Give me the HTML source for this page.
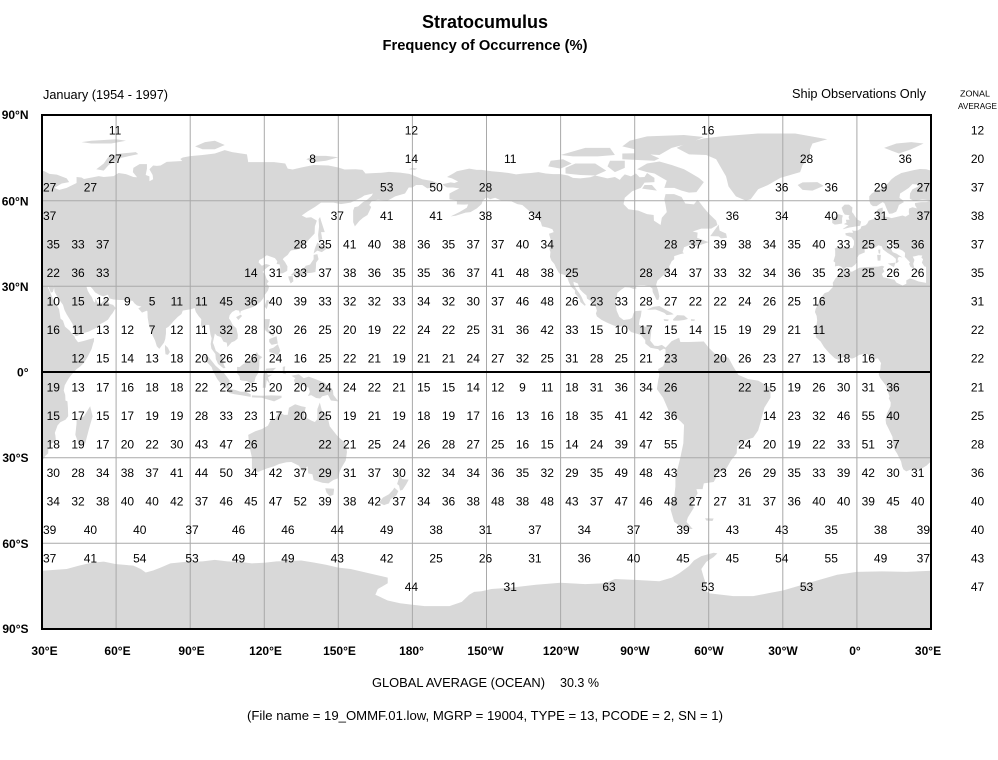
<!DOCTYPE html>
<html><head><meta charset="utf-8"><style>
html,body{margin:0;padding:0;background:#fff;}
svg{display:block;}
.n{font-family:"Liberation Sans",Arial,sans-serif;font-size:12px;text-anchor:middle;fill:#000;}
.ns{font-family:"Liberation Sans",Arial,sans-serif;font-size:12px;text-anchor:start;fill:#000;}
.ne{font-family:"Liberation Sans",Arial,sans-serif;font-size:12px;text-anchor:end;fill:#000;}
.lat{font-family:"Liberation Sans",Arial,sans-serif;font-size:12px;font-weight:bold;text-anchor:end;}
.lon{font-family:"Liberation Sans",Arial,sans-serif;font-size:12px;font-weight:bold;text-anchor:middle;}
.t{font-family:"Liberation Sans",Arial,sans-serif;}
</style></head><body>
<svg width="998" height="760" viewBox="0 0 998 760" xmlns="http://www.w3.org/2000/svg">
<defs><clipPath id="fr"><rect x="42" y="115" width="889" height="514"/></clipPath></defs>
<rect width="998" height="760" fill="#fff"/>
<g clip-path="url(#fr)">
<g transform="translate(42 372) scale(2.469444 -2.855556) translate(-30 0)" fill="#d8d8d8">
<g id="land">
<polygon points="-9,43.2 -8,43.7 -4,43.5 -1.8,43.4 -1.2,44.5 -1.2,46 -2.2,47.2 -4.5,47.9 -4.7,48.6 -3,48.8 -1.6,48.7 -1.9,49.7 -1.2,49.4 0.2,49.5 1.5,50.2 1.8,51 3.5,51.4 4.2,52 4.8,53 6.5,53.5 8.5,53.7 8.8,54.5 8.3,55.5 8.1,56.6 8.6,57.1 10.4,57.6 10.5,56.3 10.2,55.5 10.8,54.4 12.5,54.3 14,53.9 16,54.3 18.5,54.8 19.7,54.4 21.2,55.2 21,56 21.1,57.2 22.5,57.7 24.3,57.3 23.5,58.5 23.5,59.2 26,59.5 28,59.5 30,59.9 29,60.2 26.5,60.4 23,59.9 21.4,60.7 21.5,62.5 22.5,64 25,65 25.3,65.6 22.5,65.8 21,64.5 19.5,63.6 17.5,62.5 17.2,61 18.5,60.2 19,59.5 17,58.5 16.5,57.2 15.9,56.1 14.3,55.5 13,55.4 12.5,56.3 11.8,57.7 11.2,59 10.5,59.5 9.5,59 8,58.1 6.5,58.1 5.5,58.8 5,60 5,61.5 6,62.5 8,63.5 10.5,64.5 12.5,66 14,67.5 15.5,68.5 18,69.7 20,70.1 23,70.7 25.5,71.1 28,71 31,70.3 33,69.4 36,69.1 40,67.8 41,66.5 38,66 35,64.5 37,63.8 40,64.5 44,66.2 44,68.3 46,68.1 47,67.6 53,68.6 55,68.3 59,68.6 61,69.7 64,69.3 67,68.3 68.5,68.2 66.8,70 67,71.5 69.5,72.8 72.5,72.8 72.5,71.2 72,69 73.5,68.5 73.5,66.8 75,67.5 74.8,69 73.5,71 75,72.3 76.5,72.2 78,72.3 80.5,73.6 86.8,73.9 86,74.6 87,75.1 90,75.6 95,76 100,76.5 104,77.7 107,77 113,76.2 113.5,73.5 118,73.5 124,73.5 128.5,73 129.5,71.2 131.5,70.9 135,71.6 140,72.5 146,72.3 150,71.6 152.5,70.9 157,71 159.8,70.8 161,69.5 165,69.7 168,69.8 170.5,70.1 175,69.8 178.7,69.4 180,69 184,67.5 188,66.9 190,66.2 189.6,65.5 187.5,64.5 186,64.3 184,65.5 181.5,65.5 180,64.6 178.5,64.6 177,62.5 173,61.5 170,60 166,60.3 163.5,59.8 162.5,58.5 163.3,57.8 162.5,56.2 161.8,55 160,54 158.5,52.9 156.7,51 156,52.5 156,56.5 156.5,57.7 158,58 160,59.5 161.8,60.4 163.5,61.7 164,62.5 160.5,61.8 159.5,61.2 155,59.3 151,58.8 148,59.3 143,59.3 140.5,57.8 137.5,56.2 135.2,54.8 137,54 139,54.2 141.3,53 140.5,51 140.4,48.5 138.2,46.5 135.5,43.8 133,42.8 131,42.6 130.5,42.3 129.5,41 128,40 127.5,39.5 128.4,38.5 129.4,37 129.3,35.4 127.5,34.6 126.3,34.5 126.5,36.5 126.2,37.7 125,37.8 125.3,38.8 124.3,39.9 122,40.6 121,40.9 119.5,39.9 118,39.2 117.7,38.4 119,37.2 120.7,37.8 122.5,37.4 121.5,36.8 120.2,35.9 119.3,35 120.3,34.3 121,32.5 121.8,31.8 121,30.8 122,30 121.5,28.5 120.2,27 119.5,25.7 118.5,24.6 117,23.6 115.5,22.8 113.8,22.3 112,21.8 110.5,21.3 110.2,20.3 109.8,21.5 108.5,21.7 107,21 106,19.9 105.7,18.8 106.5,17.8 107.2,16.5 108.7,15.3 109.3,13 109.2,11.7 108,10.8 106.8,10.4 105.1,8.7 104.8,10.3 103.5,10.6 102.5,12.2 100.9,12.7 100,13.5 99.2,10.3 99.7,9.2 100.4,7.4 101.2,6.9 102.5,6 103.4,4.8 103.5,2.8 104.3,1.4 103.5,1.3 101.3,2.8 100.4,4.5 100.2,6.3 98.6,8.2 98.3,9.8 98.7,11.8 98.2,13.2 97.7,16.5 96.5,16.5 95.3,15.8 94.3,16 94.5,18.5 93.5,19.5 92.3,21 91.8,22.4 90.5,22 89,21.8 87,21.5 86.5,20.3 85,19.3 83.5,18 82.2,16.7 81.2,15.8 80.2,15.3 80.2,13.5 79.9,11.5 79.4,10.3 78.3,9 77.5,8.1 76.5,9 75.8,11 74.8,12.8 74.1,14.7 73.4,16 72.8,19 72.7,21.2 72.5,21.5 70.5,20.8 69,22.3 70.3,22.9 68.5,23.3 67.5,24 66.7,24.9 64.5,25.2 61.5,25.2 59,25.4 57.3,25.8 56.7,27.1 54.8,26.5 53.4,26.9 51.5,27.9 50.3,29.3 49.5,30 48,30 48.5,28.5 49.5,27 50.2,26.2 50.8,24.8 51.5,24.3 51.6,25.8 52.5,24.2 54.2,24.2 56,26 56.4,24.8 57.5,23.8 58.8,23.5 59.8,22.4 58.6,20.6 57.8,19.8 56.7,18.3 55.4,17.6 53.5,16.7 52,15.5 49,14.2 46,13.4 44.2,12.6 43.3,12.7 42.7,15.5 42.4,16.8 41.2,18.5 40,20.2 39.1,21.7 38.5,23.5 37.4,24.8 36.4,26 35.1,28.1 34.9,29.5 34.2,31.3 34.9,32.6 35.5,34 35.9,35.4 36,36.8 34.5,36.8 32.5,36.1 30.5,36.5 29,36.6 27.3,37 26.3,38.3 26.8,39.5 26.1,40.1 26.5,40.8 25,40.9 23.7,40.6 22.6,40.4 23.3,39.2 22.8,37.9 23.2,36.5 22.5,36.4 21.7,36.8 21.1,37.9 21.5,38.4 20.2,39.6 19.4,40.3 19.5,41.7 18.5,42.5 16,43.5 14.9,44.9 13.7,45.6 12.3,45.3 12.4,44.2 13.6,43.5 14.5,42 16.1,41.4 17.2,40.8 18.5,40.1 17.2,40.3 16.6,40 16.5,39 17.1,39 16.4,38.3 15.7,38 15.8,39.6 14.5,40.6 12.4,41.7 10.5,43 10.1,44 8.7,44.4 6.5,43.1 5,43.4 3.1,43 3.2,41.9 0.8,41 -0.3,39.4 0.2,38.7 -0.7,37.6 -2.1,36.7 -4.4,36.7 -5.4,35.9 -6.3,36.8 -7.4,37.2 -8.9,37 -8.8,38.3 -9.5,38.8 -8.8,40.8 -8.8,42.5"/>
<polygon points="28,30.8 37,30.8 37,37 28,37"/>
<polygon points="-5.9,35.8 -2,35.1 1,36.5 5,36.8 8.6,36.9 10.2,37.2 11.1,36.9 10.5,36.2 11.1,35.2 10.1,34.3 10.6,33.2 12,32.9 15.2,32.3 16,31.3 18.5,30.3 20,30.9 20,32.1 21.5,32.8 23.2,32.3 25,31.7 27,31.4 29.5,30.9 31,31.6 32.3,31.3 34.2,31.3 34.9,29.5 34.4,28 33.6,27.8 32.6,29.9 32.4,29.7 33.6,27.3 34.2,26.1 35.5,24 36.9,22 37.2,20.5 37.5,18.7 38.5,18 39.3,15.9 41.2,14.5 42.3,13.2 43.3,12.3 43.3,11.9 44.6,10.4 46.6,10.8 48.9,11.4 51.1,11.9 51,10.6 50.8,10.3 50.1,8.1 48.6,5.5 47.7,4.2 46.6,2.9 45.6,2 44,1 42.1,-0.8 41,-2 40.1,-3.3 39.2,-4.7 38.8,-6.5 39.4,-8 39.5,-10 40.3,-10.3 40.5,-12.6 40.6,-15.5 39.5,-16.7 37.4,-17.6 36.3,-18.7 35.2,-21.3 35.4,-22.1 35.6,-23.7 35,-24.5 33,-25.4 32.6,-26.5 32.5,-28.5 31.3,-29.4 30,-31.3 28.2,-32.8 26.4,-33.7 25.6,-34 22.6,-33.9 20,-34.8 18.8,-34.1 18.3,-33 17.9,-31.4 16.3,-28.6 15.2,-27.1 14.7,-25.4 14.4,-22.7 13.4,-20.9 11.8,-18.1 11.6,-16.7 12.2,-14.5 13.6,-12 13.7,-10.7 12.9,-9.2 13.2,-8.6 12.3,-6.1 12.2,-5.8 11.9,-5 11,-3.9 9.4,-2.1 8.8,-0.8 9.5,1 9.6,2.3 9.8,3.1 8.5,4.8 7.1,4.5 5.9,4.3 4.3,6.3 2.7,6.3 1,6 -1,5 -2,4.7 -4,5.2 -5.8,5.1 -7.5,4.3 -9,4.8 -11.4,6.8 -13.3,8.7 -14.7,10.7 -15.1,11 -16.6,12.2 -16.7,13.6 -17.2,14.9 -16.4,16.2 -16.1,18.1 -16.3,19.6 -17,21 -16.7,22.1 -15.8,23.7 -14.4,26.2 -13.1,27.6 -11.5,28.1 -9.6,29.9 -9.8,31.2 -8.7,32.8 -6.9,34.1"/>
<polygon points="44,-16.5 47,-15.5 49.5,-12 50.5,-15.5 49,-20 47.5,-25 45,-25.5 43.5,-22 44,-18"/>
<polygon points="79.8,9.5 81,8.5 81.8,7 81,6 80,6.2 79.8,8"/>
<polygon points="113.5,-22 114,-26 115,-30 115,-34 117.5,-35 121,-33.8 124,-33 126,-32.2 129,-31.6 131,-31.5 134,-32.8 135.6,-34.9 137.5,-33 137.8,-35.5 139.5,-35.8 140,-37.8 143.5,-38.8 146,-39 148,-37.8 150,-37.2 150.5,-35 151.3,-33.5 153,-31 153.5,-28 153,-25 151,-23.5 149.5,-22.3 146.5,-19 145.5,-15 143.5,-14 142.5,-10.7 141.5,-13 141.5,-16.5 140.5,-17.5 139,-17 136,-15.5 136.8,-12.3 135,-12 132.5,-11.3 130,-12.5 129.5,-15 128,-15 126,-14 124.5,-16.3 122.5,-17 121.5,-18.8 119,-20 116.5,-20.7"/>
<polygon points="144.7,-40.7 148.3,-40.9 148,-43 146.5,-43.5 145.2,-42.2"/>
<polygon points="172.7,-34.4 174.5,-36 175.9,-37.5 178.5,-37.7 177.5,-39.3 176,-41.3 175,-41.5 174.6,-39.8 173.8,-39.2 174.6,-37 173,-35"/>
<polygon points="172.7,-40.5 174.3,-41.7 173.5,-43.2 171.2,-44.5 170.5,-46 168.5,-46.6 166.5,-45.8 168,-44 170.5,-42.8 172,-41.4"/>
<polygon points="131,-1.3 134,-0.8 136,-2.2 138,-1.6 141,-2.6 144.5,-3.8 146,-5.5 147.8,-6.3 148,-8 150,-10.3 147,-10 145.8,-8 143.5,-8.5 142.6,-9.3 141,-9.1 139,-8.1 137.7,-8.4 138.5,-7 138,-5.5 135,-4.4 132.5,-4 132,-2.8 132.6,-2.2"/>
<polygon points="109,1.8 110,1.7 111.5,2.8 113.5,3.5 115.5,5.2 117,7 117.7,6 119.2,5.2 118,4.3 118,2.3 117.8,0.8 117.5,-0.5 116.5,-1.8 116,-3.5 114.5,-4 113,-3.2 111,-3 110.2,-2.8 110,-1.5 109,-0.5"/>
<polygon points="95.3,5.6 97.5,5.2 100.3,2.2 103.8,-0.5 106,-3 105.8,-5.8 104.5,-5.8 102.3,-4 101,-2.5 99.3,0.2 98.7,1.7 96.5,3.7"/>
<polygon points="105.2,-6.8 106,-5.9 108.3,-6.3 110.4,-6.9 112.5,-6.9 114.5,-7.8 114.5,-8.7 111,-8.2 108,-7.8 106,-7.4"/>
<polygon points="119.4,-5.5 119.6,-1 120.8,1.2 124.8,1.5 123.5,0.4 120.5,0.5 121.5,-1 123.3,-0.9 121.5,-1.9 122.5,-4.5 121,-2.8 120.6,-5.5"/>
<polygon points="115,-8.2 119,-8.3 123,-8.2 127,-8.3 127,-9 124,-10.3 119,-9 115,-8.9"/>
<polygon points="127.5,1.8 128.5,2 128.3,0.5 128.8,-0.8 127.5,-0.5"/>
<polygon points="120,18.5 122.3,18.5 122,16.5 121.5,15 124,13 123.5,12.6 121.5,13.8 120.5,14.5 120,16"/>
<polygon points="122,11.5 125,12.5 125.5,10 123,9.5 122,10.5"/>
<polygon points="122,8 123.7,8.5 125.5,9.7 126.5,7.5 125.5,5.7 124,6.5 122,7"/>
<polygon points="120.1,23 121,25.3 122,25 121,22"/>
<polygon points="108.6,19.2 110.5,20.1 111,19.6 109.5,18.2"/>
<polygon points="130.9,34 132.5,35.4 135.5,35.6 136.8,37.2 138.5,37.6 140,39.5 140,41 141.5,41.3 142,39.5 141,38.3 140.9,36.5 140.7,35 139,34.7 137,34.6 135.3,33.7 133,34.2 131.2,33.8"/>
<polygon points="129.7,33.5 131.5,33.6 131.8,31.8 130.7,31 130,32.5"/>
<polygon points="132.5,33.5 134.7,34.2 134.2,33.2 133,32.8"/>
<polygon points="140,41.5 140.5,43.3 141.5,45.4 143,44.3 145.5,43.3 143.3,42 141.5,42.5"/>
<polygon points="142,46 143.5,46.5 143,49 144.5,49 143,53 142.6,54.3 142,53.5 142.2,51 141.8,48"/>
<polygon points="11,78.5 16,80 22,80.5 27,80 22,78 17,76.5 14,77.5"/>
<polygon points="46,80.5 50,81 60,81.5 64,81 58,80 50,80"/>
<polygon points="52,71 55,73 57,75.5 62,76.5 68,77 69,76.3 62,75 57,72.5 55,70.5"/>
<polygon points="92,79 96,80.5 100,81 104,79.5 100,78 95,78"/>
<polygon points="137,74.5 140,75.7 145,75.7 150,75.2 145,74 140,73.5"/>
<polygon points="178.5,71 180,71.5 182,71.2 181,70.8"/>
<polygon points="12.5,38 15.6,38.3 15,36.7"/>
<polygon points="8.2,41 9.7,41 9.5,39 8.4,39"/>
<polygon points="8.6,42.8 9.5,42.9 9.4,41.4 8.8,41.6"/>
<polygon points="23.5,35.5 26.3,35.2 24.5,35"/>
<polygon points="-85,69.7 -82,68 -82,66.5 -86,66.3 -87.5,64.5 -91,63.3 -94,61 -94.5,58.8 -92.5,57 -88.5,56.5 -85,55.3 -82.3,55 -82.2,53 -79.5,51.5 -79,54 -77,56 -77.5,58.5 -78,60.5 -77.5,62.3 -74,62.3 -71,61.3 -69.5,59 -66,58.7 -64.5,60.3 -62,57.5 -60,55.5 -57,53 -56.5,51.5 -59,50.2 -63,50.2 -66.5,49.2 -64.5,48.8 -64.7,47 -61,45.8 -60,45.5 -63,44.6 -66,44 -67.5,44.5 -70,43.7 -70.6,42 -70,41.6 -71.5,41.3 -74,40.6 -74,39.5 -75,38.8 -76,37 -75.6,35.5 -77,34.6 -78.5,33.8 -80.8,32 -81.3,30.5 -80.5,28.5 -80,26.5 -80.4,25.2 -81.2,25.3 -81.8,26.5 -82.7,28 -82.8,29.2 -84,30 -86,30.4 -88,30.4 -89.5,30.2 -89.3,29.2 -90.5,29.1 -92,29.6 -94,29.7 -95.5,28.8 -97,27.7 -97.3,26 -97.7,24 -97.3,21.5 -96.2,19.3 -94.5,18.2 -92,18.5 -91,19 -90.5,20.5 -90,21.3 -87.2,21.5 -87.5,19.5 -88,18.3 -88.3,16.5 -86,15.9 -84,15.8 -83.2,15 -83.5,12.5 -83.7,11 -82,9.2 -80.5,9.1 -79,9.5 -77.5,8.6 -77.3,7.8 -78.2,8.2 -79.8,7.4 -80.5,8 -81.8,8.2 -83.6,8.5 -85.7,10 -85.7,11.1 -87.5,13 -89.5,13.5 -91.5,14 -93,15.5 -94.7,16.2 -96.5,15.7 -98.5,16.3 -101,17.2 -103.5,18.3 -105.3,19.5 -105.7,20.5 -105.3,21.5 -105.7,22.7 -106.8,23.7 -108,25 -109.3,25.7 -109.5,26.8 -111,27.9 -112.2,29 -113,31 -114.8,31.6 -114.6,30.5 -113.6,29 -112.5,27.7 -111.5,26.3 -110.6,24.5 -109.8,23.5 -110.2,23.2 -112,24.5 -112.2,25.5 -114.2,27.5 -114.2,28.6 -115.7,29.8 -116.7,31.6 -117.3,33.2 -118.5,34 -120.6,34.6 -121.9,36.6 -122.5,37.8 -123.7,39 -124.3,40.3 -124.1,42 -124.5,43 -124,46.3 -124.7,48.4 -122.8,49 -123.3,50 -125,50.5 -127.5,51 -128,52.5 -130,54.5 -131.5,55.5 -133.5,57 -135.5,58.5 -137.5,58.8 -140,59.8 -144,60 -146.5,61 -148.5,60.5 -150,61.2 -151.5,60 -152,58.8 -153.9,57.3 -156.5,56 -158.5,55.8 -162.5,54.7 -164.5,54.5 -161,56 -158,57.5 -157.4,58.7 -159,58.6 -162,58.7 -162,60 -165,60.5 -165,62.5 -163.5,63.2 -161,64.3 -163.5,64.6 -166,64.6 -168,65.7 -164.5,66.4 -163,66.2 -161.5,66.7 -164,67.8 -166,68.3 -163.5,69.5 -162,70.3 -157,71.2 -154,70.8 -152,70.8 -148,70.3 -144,70 -141,69.7 -138,69.2 -135,69.5 -132,69.7 -129,70 -126,69.5 -123,69.3 -120,69.3 -117,68.8 -115,68 -112,67.8 -108,68.2 -106,68.8 -101,67.8 -98,68.3 -96,67.3 -95.3,68.1 -94,69.2 -91.5,68.5 -89.5,69.5 -88,68.2 -86,68.3"/>
<polygon points="-62,66.5 -65,63 -68,62.8 -71,63.5 -74,64.5 -78,64.5 -77,67 -82,69.5 -85,70 -89,71 -85,73 -80,73.7 -75,72.5 -70,71 -67,69.5 -64,68"/>
<polygon points="-118,71.5 -114,73 -106,73 -101.5,70.5 -106,68.8 -112,69 -118,69.5"/>
<polygon points="-125,72 -124,74 -119,74.5 -115.5,73 -120,71.2"/>
<polygon points="-90,76.5 -80,76 -75,78.5 -68,80 -62,82.3 -70,83 -85,82.5 -92,81 -95,79 -90,78"/>
<polygon points="-95,74.5 -82,74 -80,74.8 -85,76.7 -95,76.5"/>
<polygon points="-120,76 -110,78.5 -100,78.5 -98,76 -105,75.5 -115,75.5"/>
<polygon points="-101,72 -100,74 -94,74 -94,71.5 -98,70"/>
<polygon points="-87,64.2 -81,63.5 -83,65.5 -86,65.5"/>
<polygon points="-73,78.5 -68,76.2 -61,76 -57,74.5 -55,71.5 -53,68.5 -52,65 -49,61.5 -45,60 -43,60.5 -40,64 -36,65.5 -31,68 -23,70 -22,72.5 -19,75 -19,78 -18,80 -12,81.5 -25,83.5 -40,83.5 -55,82.5 -62,81.8 -68,80.5"/>
<polygon points="-24,65.5 -22,66.4 -16,66.5 -13.5,65.2 -18,63.5 -22,63.8"/>
<polygon points="-5.7,50 -3,50.6 1.3,51.2 1.7,52.7 0,53.5 -1.5,55.5 -2,56 -1.8,57.6 -3.2,58.6 -5,58.6 -6.2,57.5 -5.6,56 -4.9,55.1 -3,54.9 -3.4,54.3 -3,53.3 -4.5,53.3 -4.2,52.3 -5.3,51.8 -3.5,51.4 -5.5,50.2"/>
<polygon points="-6,52 -6,53.9 -5.7,54.8 -7.5,55.3 -8.5,54.4 -10,54 -10,52.2 -9,51.6 -8,51.7"/>
<polygon points="-59.4,47.6 -56,51.6 -55.6,49.5 -53,48.5 -52.6,47 -55,46.8 -56,47.5"/>
<polygon points="-85,21.9 -82.5,22.8 -80,23.1 -77.5,21.8 -75,20.7 -74.2,20.2 -77,19.9 -78,20.7 -81.5,21.9 -84,21.8"/>
<polygon points="-74.5,18.4 -72.8,19.9 -70,19.8 -68.4,18.6 -70,18.2 -72,18 -74.3,18"/>
<polygon points="-78.3,18.5 -76.2,18.4 -76.5,17.8 -78,17.9"/>
<polygon points="-67.2,18.5 -65.6,18.4 -65.8,17.9 -67.2,17.9"/>
<polygon points="-61.5,-51.2 -58,-51.3 -58.5,-52.2 -61,-52"/>
<polygon points="-77.5,8.5 -75,10.8 -72,12 -71.5,10.5 -68,10.5 -62,10.7 -60,8.5 -57,6 -52,5 -50,1.8 -48,-1 -44,-2.5 -40,-3 -35,-5.5 -35,-9 -37.5,-12.5 -39,-17.5 -40,-20.5 -42,-23 -45,-23.8 -48.5,-26 -48.7,-28.5 -51,-31 -53,-34 -55,-35 -57.5,-35 -57,-37 -58,-38.5 -62,-39 -62.5,-41 -65,-41 -64.5,-42.5 -67,-46 -66,-47.5 -68.5,-51 -69,-52.5 -66.5,-55 -70,-55 -74,-52.5 -75.5,-48 -74,-44 -73.5,-40 -73.5,-37 -71.5,-30 -70.3,-25 -70,-18.5 -71.5,-17.2 -76,-14 -78.5,-9 -81,-6 -80.5,-3 -80,-1 -80.5,1 -78.5,2 -77.5,4 -77.5,7"/>
<polygon points="-180,-81.5 -175,-82 -165,-82 -160,-80.5 -157,-78 -155,-77 -152,-76.8 -148,-76 -140,-75.5 -130,-74.5 -120,-73.8 -110,-74.3 -102,-74 -98,-72.5 -90,-72.8 -80,-73.3 -75,-72 -72,-70.5 -68,-68 -66,-66 -63,-64.5 -58,-63.3 -56.5,-63.5 -58,-64.8 -61,-66.5 -63,-69 -62,-72 -61,-74.5 -62,-76 -60,-77.5 -50,-78.5 -42,-78.5 -36,-77.5 -30,-76.5 -26,-75.5 -20,-74 -14,-72.5 -8,-71 0,-70 10,-69.8 20,-70 30,-69.6 40,-69 45,-67.8 50,-66.8 55,-66.4 60,-67.3 67,-67.8 70,-69 72,-70.2 75,-69.5 78,-68.5 82,-67 88,-66.5 95,-66.3 100,-65.8 105,-66.3 110,-66.5 115,-67 120,-66.8 125,-66.3 130,-66.2 135,-66 140,-66.7 145,-67.5 150,-68.5 155,-69 160,-70 165,-71 170,-72 170,-74 166,-76 165,-78 170,-80 175,-81 180,-81.5 180,-92 -180,-92"/>
</g>
<use href="#land" x="360"/>
</g>
</g>
<g stroke="#a9a9a9" stroke-width="1" fill="none">
<path d="M116.1 115V629M190.2 115V629M264.3 115V629M338.3 115V629M412.4 115V629M486.5 115V629M560.6 115V629M634.7 115V629M708.7 115V629M782.8 115V629M856.9 115V629"/>
<path d="M42 200.7H931M42 286.3H931M42 457.7H931M42 543.3H931"/>
</g>
<line x1="42" y1="372" x2="931" y2="372" stroke="#000" stroke-width="2"/>
<rect x="42" y="115" width="889" height="514" fill="none" stroke="#000" stroke-width="2"/>

<text class="t" x="485" y="28" font-size="18" font-weight="bold" text-anchor="middle">Stratocumulus</text>
<text class="t" x="485" y="50" font-size="14.5" font-weight="bold" text-anchor="middle" textLength="205" lengthAdjust="spacingAndGlyphs">Frequency of Occurrence (%)</text>
<text class="t" x="43" y="99" font-size="12.5" textLength="125" lengthAdjust="spacingAndGlyphs">January (1954 - 1997)</text>
<text class="t" x="926" y="98" font-size="12.7" text-anchor="end" textLength="134" lengthAdjust="spacingAndGlyphs">Ship Observations Only</text>
<text class="t" x="975" y="96.5" font-size="8.5" text-anchor="middle" textLength="30" lengthAdjust="spacingAndGlyphs">ZONAL</text>
<text class="t" x="977.5" y="109" font-size="8.5" text-anchor="middle" textLength="39" lengthAdjust="spacingAndGlyphs">AVERAGE</text>

<g class="lat">
<text x="28.5" y="119">90°N</text><text x="28.5" y="205.5">60°N</text><text x="28.5" y="291">30°N</text><text x="28.5" y="376.5">0°</text><text x="28.5" y="462">30°S</text><text x="28.5" y="548">60°S</text><text x="28.5" y="633">90°S</text>
</g>
<g class="lon">
<text x="44.5" y="655">30°E</text><text x="117.5" y="655">60°E</text><text x="191.5" y="655">90°E</text><text x="265.5" y="655">120°E</text><text x="339.5" y="655">150°E</text><text x="411.5" y="655">180°</text><text x="485.5" y="655">150°W</text><text x="561" y="655">120°W</text><text x="635" y="655">90°W</text><text x="709" y="655">60°W</text><text x="783" y="655">30°W</text><text x="855" y="655">0°</text><text x="928" y="655">30°E</text>
</g>
<text class="t" x="372" y="687" font-size="12.7" textLength="173" lengthAdjust="spacingAndGlyphs">GLOBAL AVERAGE (OCEAN)</text>
<text class="t" x="560" y="687" font-size="12.7" textLength="39" lengthAdjust="spacingAndGlyphs">30.3 %</text>
<text class="t" x="247" y="720" font-size="12.5" textLength="476" lengthAdjust="spacingAndGlyphs">(File name = 19_OMMF.01.low, MGRP = 19004, TYPE = 13, PCODE = 2, SN = 1)</text>

<g class="n">
<g transform="translate(0,134.3)"><text x="115.1">11</text><text x="411.4">12</text><text x="707.8">16</text><text x="977.5">12</text></g>
<g transform="translate(0,162.8)"><text x="115.1">27</text><text x="312.6">8</text><text x="411.4">14</text><text x="510.2">11</text><text x="806.5">28</text><text x="905.3">36</text><text x="977.5">20</text></g>
<g transform="translate(0,191.4)"><text class="ns" x="43">27</text><text x="90.4">27</text><text x="386.7">53</text><text x="436.1">50</text><text x="485.5">28</text><text x="781.8">36</text><text x="831.2">36</text><text x="880.6">29</text><text class="ne" x="930">27</text><text x="977.5">37</text></g>
<g transform="translate(0,220)"><text class="ns" x="43">37</text><text x="337.3">37</text><text x="386.7">41</text><text x="436.1">41</text><text x="485.5">38</text><text x="534.9">34</text><text x="732.4">36</text><text x="781.8">34</text><text x="831.2">40</text><text x="880.6">31</text><text class="ne" x="930">37</text><text x="977.5">38</text></g>
<g transform="translate(0,248.5)"><text x="53.3">35</text><text x="78">33</text><text x="102.7">37</text><text x="300.3">28</text><text x="325">35</text><text x="349.7">41</text><text x="374.4">40</text><text x="399.1">38</text><text x="423.8">36</text><text x="448.5">35</text><text x="473.2">37</text><text x="497.8">37</text><text x="522.5">40</text><text x="547.2">34</text><text x="670.7">28</text><text x="695.4">37</text><text x="720.1">39</text><text x="744.8">38</text><text x="769.5">34</text><text x="794.2">35</text><text x="818.9">40</text><text x="843.6">33</text><text x="868.3">25</text><text x="893">35</text><text x="917.7">36</text><text x="977.5">37</text></g>
<g transform="translate(0,277.1)"><text x="53.3">22</text><text x="78">36</text><text x="102.7">33</text><text x="250.9">14</text><text x="275.6">31</text><text x="300.3">33</text><text x="325">37</text><text x="349.7">38</text><text x="374.4">36</text><text x="399.1">35</text><text x="423.8">35</text><text x="448.5">36</text><text x="473.2">37</text><text x="497.8">41</text><text x="522.5">48</text><text x="547.2">38</text><text x="571.9">25</text><text x="646">28</text><text x="670.7">34</text><text x="695.4">37</text><text x="720.1">33</text><text x="744.8">32</text><text x="769.5">34</text><text x="794.2">36</text><text x="818.9">35</text><text x="843.6">23</text><text x="868.3">25</text><text x="893">26</text><text x="917.7">26</text><text x="977.5">35</text></g>
<g transform="translate(0,305.6)"><text x="53.3">10</text><text x="78">15</text><text x="102.7">12</text><text x="127.4">9</text><text x="152.1">5</text><text x="176.8">11</text><text x="201.5">11</text><text x="226.2">45</text><text x="250.9">36</text><text x="275.6">40</text><text x="300.3">39</text><text x="325">33</text><text x="349.7">32</text><text x="374.4">32</text><text x="399.1">33</text><text x="423.8">34</text><text x="448.5">32</text><text x="473.2">30</text><text x="497.8">37</text><text x="522.5">46</text><text x="547.2">48</text><text x="571.9">26</text><text x="596.6">23</text><text x="621.3">33</text><text x="646">28</text><text x="670.7">27</text><text x="695.4">22</text><text x="720.1">22</text><text x="744.8">24</text><text x="769.5">26</text><text x="794.2">25</text><text x="818.9">16</text><text x="977.5">31</text></g>
<g transform="translate(0,334.2)"><text x="53.3">16</text><text x="78">11</text><text x="102.7">13</text><text x="127.4">12</text><text x="152.1">7</text><text x="176.8">12</text><text x="201.5">11</text><text x="226.2">32</text><text x="250.9">28</text><text x="275.6">30</text><text x="300.3">26</text><text x="325">25</text><text x="349.7">20</text><text x="374.4">19</text><text x="399.1">22</text><text x="423.8">24</text><text x="448.5">22</text><text x="473.2">25</text><text x="497.8">31</text><text x="522.5">36</text><text x="547.2">42</text><text x="571.9">33</text><text x="596.6">15</text><text x="621.3">10</text><text x="646">17</text><text x="670.7">15</text><text x="695.4">14</text><text x="720.1">15</text><text x="744.8">19</text><text x="769.5">29</text><text x="794.2">21</text><text x="818.9">11</text><text x="977.5">22</text></g>
<g transform="translate(0,362.7)"><text x="78">12</text><text x="102.7">15</text><text x="127.4">14</text><text x="152.1">13</text><text x="176.8">18</text><text x="201.5">20</text><text x="226.2">26</text><text x="250.9">26</text><text x="275.6">24</text><text x="300.3">16</text><text x="325">25</text><text x="349.7">22</text><text x="374.4">21</text><text x="399.1">19</text><text x="423.8">21</text><text x="448.5">21</text><text x="473.2">24</text><text x="497.8">27</text><text x="522.5">32</text><text x="547.2">25</text><text x="571.9">31</text><text x="596.6">28</text><text x="621.3">25</text><text x="646">21</text><text x="670.7">23</text><text x="720.1">20</text><text x="744.8">26</text><text x="769.5">23</text><text x="794.2">27</text><text x="818.9">13</text><text x="843.6">18</text><text x="868.3">16</text><text x="977.5">22</text></g>
<g transform="translate(0,391.3)"><text x="53.3">19</text><text x="78">13</text><text x="102.7">17</text><text x="127.4">16</text><text x="152.1">18</text><text x="176.8">18</text><text x="201.5">22</text><text x="226.2">22</text><text x="250.9">25</text><text x="275.6">20</text><text x="300.3">20</text><text x="325">24</text><text x="349.7">24</text><text x="374.4">22</text><text x="399.1">21</text><text x="423.8">15</text><text x="448.5">15</text><text x="473.2">14</text><text x="497.8">12</text><text x="522.5">9</text><text x="547.2">11</text><text x="571.9">18</text><text x="596.6">31</text><text x="621.3">36</text><text x="646">34</text><text x="670.7">26</text><text x="744.8">22</text><text x="769.5">15</text><text x="794.2">19</text><text x="818.9">26</text><text x="843.6">30</text><text x="868.3">31</text><text x="893">36</text><text x="977.5">21</text></g>
<g transform="translate(0,419.8)"><text x="53.3">15</text><text x="78">17</text><text x="102.7">15</text><text x="127.4">17</text><text x="152.1">19</text><text x="176.8">19</text><text x="201.5">28</text><text x="226.2">33</text><text x="250.9">23</text><text x="275.6">17</text><text x="300.3">20</text><text x="325">25</text><text x="349.7">19</text><text x="374.4">21</text><text x="399.1">19</text><text x="423.8">18</text><text x="448.5">19</text><text x="473.2">17</text><text x="497.8">16</text><text x="522.5">13</text><text x="547.2">16</text><text x="571.9">18</text><text x="596.6">35</text><text x="621.3">41</text><text x="646">42</text><text x="670.7">36</text><text x="769.5">14</text><text x="794.2">23</text><text x="818.9">32</text><text x="843.6">46</text><text x="868.3">55</text><text x="893">40</text><text x="977.5">25</text></g>
<g transform="translate(0,448.4)"><text x="53.3">18</text><text x="78">19</text><text x="102.7">17</text><text x="127.4">20</text><text x="152.1">22</text><text x="176.8">30</text><text x="201.5">43</text><text x="226.2">47</text><text x="250.9">26</text><text x="325">22</text><text x="349.7">21</text><text x="374.4">25</text><text x="399.1">24</text><text x="423.8">26</text><text x="448.5">28</text><text x="473.2">27</text><text x="497.8">25</text><text x="522.5">16</text><text x="547.2">15</text><text x="571.9">14</text><text x="596.6">24</text><text x="621.3">39</text><text x="646">47</text><text x="670.7">55</text><text x="744.8">24</text><text x="769.5">20</text><text x="794.2">19</text><text x="818.9">22</text><text x="843.6">33</text><text x="868.3">51</text><text x="893">37</text><text x="977.5">28</text></g>
<g transform="translate(0,477)"><text x="53.3">30</text><text x="78">28</text><text x="102.7">34</text><text x="127.4">38</text><text x="152.1">37</text><text x="176.8">41</text><text x="201.5">44</text><text x="226.2">50</text><text x="250.9">34</text><text x="275.6">42</text><text x="300.3">37</text><text x="325">29</text><text x="349.7">31</text><text x="374.4">37</text><text x="399.1">30</text><text x="423.8">32</text><text x="448.5">34</text><text x="473.2">34</text><text x="497.8">36</text><text x="522.5">35</text><text x="547.2">32</text><text x="571.9">29</text><text x="596.6">35</text><text x="621.3">49</text><text x="646">48</text><text x="670.7">43</text><text x="720.1">23</text><text x="744.8">26</text><text x="769.5">29</text><text x="794.2">35</text><text x="818.9">33</text><text x="843.6">39</text><text x="868.3">42</text><text x="893">30</text><text x="917.7">31</text><text x="977.5">36</text></g>
<g transform="translate(0,505.5)"><text x="53.3">34</text><text x="78">32</text><text x="102.7">38</text><text x="127.4">40</text><text x="152.1">40</text><text x="176.8">42</text><text x="201.5">37</text><text x="226.2">46</text><text x="250.9">45</text><text x="275.6">47</text><text x="300.3">52</text><text x="325">39</text><text x="349.7">38</text><text x="374.4">42</text><text x="399.1">37</text><text x="423.8">34</text><text x="448.5">36</text><text x="473.2">38</text><text x="497.8">48</text><text x="522.5">38</text><text x="547.2">48</text><text x="571.9">43</text><text x="596.6">37</text><text x="621.3">47</text><text x="646">46</text><text x="670.7">48</text><text x="695.4">27</text><text x="720.1">27</text><text x="744.8">31</text><text x="769.5">37</text><text x="794.2">36</text><text x="818.9">40</text><text x="843.6">40</text><text x="868.3">39</text><text x="893">45</text><text x="917.7">40</text><text x="977.5">40</text></g>
<g transform="translate(0,534.1)"><text class="ns" x="43">39</text><text x="90.4">40</text><text x="139.8">40</text><text x="192">37</text><text x="238.5">46</text><text x="287.9">46</text><text x="337.3">44</text><text x="386.7">49</text><text x="436.1">38</text><text x="485.5">31</text><text x="534.9">37</text><text x="584.3">34</text><text x="633.6">37</text><text x="683">39</text><text x="732.4">43</text><text x="781.8">43</text><text x="831.2">35</text><text x="880.6">38</text><text class="ne" x="930">39</text><text x="977.5">40</text></g>
<g transform="translate(0,562.6)"><text class="ns" x="43">37</text><text x="90.4">41</text><text x="139.8">54</text><text x="192">53</text><text x="238.5">49</text><text x="287.9">49</text><text x="337.3">43</text><text x="386.7">42</text><text x="436.1">25</text><text x="485.5">26</text><text x="534.9">31</text><text x="584.3">36</text><text x="633.6">40</text><text x="683">45</text><text x="732.4">45</text><text x="781.8">54</text><text x="831.2">55</text><text x="880.6">49</text><text class="ne" x="930">37</text><text x="977.5">43</text></g>
<g transform="translate(0,591.2)"><text x="411.4">44</text><text x="510.2">31</text><text x="609">63</text><text x="707.8">53</text><text x="806.5">53</text><text x="977.5">47</text></g>
</g>
</svg>
</body></html>
